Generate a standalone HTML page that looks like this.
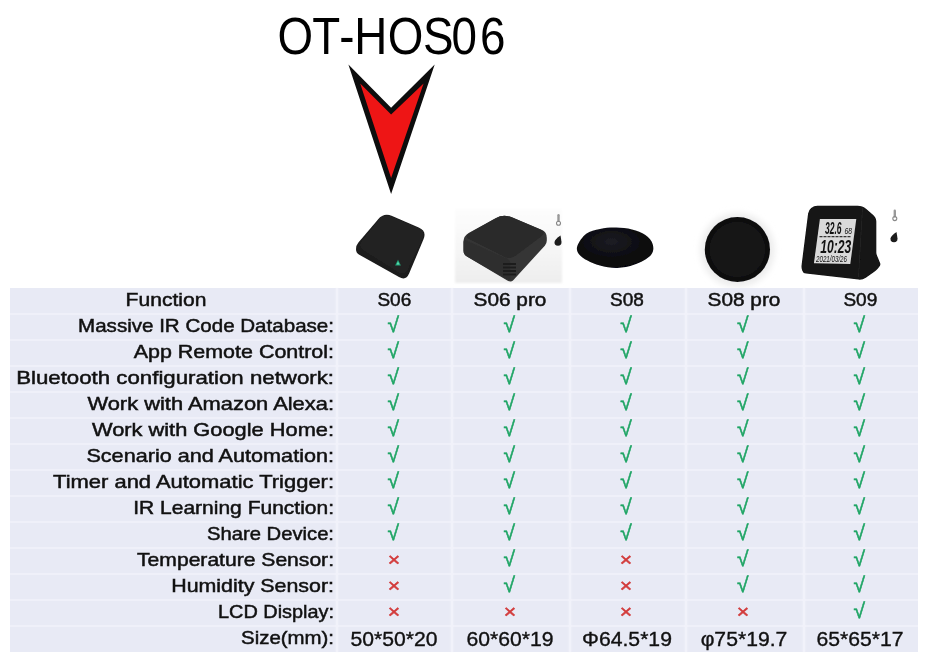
<!DOCTYPE html><html><head><meta charset="utf-8"><title>OT-HOS06</title><style>
html,body{margin:0;padding:0;background:#fff;}
body{width:936px;height:668px;position:relative;overflow:hidden;font-family:"Liberation Sans",sans-serif;color:#111;}
#tbl{position:absolute;left:10px;top:288px;width:908px;height:364px;background:#e8eaf5;}
.hl{position:absolute;left:0;width:908px;height:2px;background:#eff0f9;}
.vl{position:absolute;top:0;height:364px;width:2px;background:#f1f2fa;box-shadow:0 0 2px rgba(250,248,255,.9);}
.lab{position:absolute;transform-origin:100% 50%;left:0;width:324px;text-align:right;font-size:19px;line-height:26px;height:26px;white-space:nowrap;-webkit-text-stroke:0.5px #111;}
.lab.c{text-align:center;width:312px;}
.cell{position:absolute;width:116px;text-align:center;font-size:19px;line-height:26px;height:26px;white-space:nowrap;}
.cell.s{font-size:19.5px;-webkit-text-stroke:0.35px #111;}
.cell.h{-webkit-text-stroke:0.5px #111;}
.v{color:#1fa565;font-size:21px;-webkit-text-stroke:0.5px #1fa565;}
.x{color:#d23a3a;font-size:19px;-webkit-text-stroke:0.5px #d23a3a;}
svg{position:absolute;left:0;top:0;}
</style></head><body>
<svg width="936" height="290" viewBox="0 0 936 290">
<defs>
<filter id="b1" x="-10%" y="-10%" width="120%" height="120%"><feGaussianBlur stdDeviation="0.6"/></filter>
<filter id="b2" x="-10%" y="-10%" width="120%" height="120%"><feGaussianBlur stdDeviation="1.2"/></filter>
<filter id="b3" x="-20%" y="-20%" width="140%" height="140%"><feGaussianBlur stdDeviation="3"/></filter>
<linearGradient id="g2" x1="0" y1="0" x2="0" y2="1"><stop offset="0" stop-color="#fdfdfd"/><stop offset="0.45" stop-color="#f7f7f7"/><stop offset="1" stop-color="#eeeeee"/></linearGradient>
<radialGradient id="g3" cx="0.45" cy="0.35" r="0.7"><stop offset="0" stop-color="#1d1d24"/><stop offset="0.6" stop-color="#0b0b0f"/><stop offset="1" stop-color="#050507"/></radialGradient>
</defs>
<text x="315.2 354.7 385.4 402.6 440.6 480.7 513.2 545.4" y="53.6" transform="scale(0.88,1)" font-family="Liberation Sans, sans-serif" font-size="52" fill="#000">OT-HOS06</text>
<polygon points="348.4,64.4 391.1,107.8 434.7,64.4 391.1,193.9" fill="#0d0d0d"/>
<polygon points="360.2,83.6 391.1,114.4 423.6,83.6 391.1,178.1" fill="#ee1515"/>
<g filter="url(#b1)">
<path d="M378.0,219.4 Q383.8,212.5 392.1,216.0 L418.7,227.5 Q427.0,231.0 423.5,239.3 L409.1,273.6 Q406.0,281.0 399.0,277.1 L359.3,254.8 Q356.0,253.0 356.0,249.2 L356.0,249.2 Q356.0,245.5 358.4,242.6 Z" fill="#1b1b1b"/>
<path d="M378.8,219.8 Q383.8,213.5 391.2,216.6 L418.6,228.2 Q426.0,231.3 422.5,238.5 L408.0,268.8 Q404.5,276.0 397.7,271.7 L363.4,250.2 Q357.5,246.5 361.9,241.0 Z" fill="#242424"/>
<polygon points="398,259.8 400.9,265.4 395.1,265.4" fill="#1f9f78"/><polygon points="398,261.6 399.4,264.5 396.6,264.5" fill="#5fe0b0"/>
</g>
<rect x="455" y="208.5" width="107" height="74.5" fill="url(#g2)" filter="url(#b2)"/>
<g filter="url(#b1)">
<path d="M495.6,218.2 Q503.5,213.8 511.8,217.3 L541.5,229.8 Q546.8,232.0 546.8,237.8 L546.8,240.5 Q546.8,243.5 544.8,245.7 L513.0,280.4 Q512.0,281.5 510.5,281.5 L510.5,281.5 Q509.0,281.5 507.7,280.7 L466.9,256.5 Q463.5,254.5 463.5,250.5 L463.5,242.0 Q463.5,236.0 468.7,233.1 Z" fill="#353535"/>
<path d="M463.5,242.0 Q463.5,239.0 466.2,240.2 L507.8,258.8 Q510.5,260.0 510.5,263.0 L510.5,277.5 Q510.5,281.5 507.0,279.5 L467.0,256.5 Q463.5,254.5 463.5,250.5 Z" fill="#2f2f2f"/>
<path d="M495.7,218.2 Q503.5,213.8 511.8,217.3 L540.4,229.5 Q546.8,232.3 541.2,236.5 L516.1,255.6 Q510.5,259.8 504.2,256.7 L469.8,239.6 Q463.5,236.5 469.6,233.0 Z" fill="#2a2a2a"/>
<line x1="503" y1="264" x2="516" y2="264" stroke="#1a1a1a" stroke-width="1.6"/>
<line x1="503" y1="267.5" x2="516" y2="267.5" stroke="#1a1a1a" stroke-width="1.6"/>
<line x1="503" y1="271" x2="516" y2="271" stroke="#1a1a1a" stroke-width="1.6"/>
<line x1="503" y1="274.5" x2="516" y2="274.5" stroke="#1a1a1a" stroke-width="1.6"/>
</g>
<g filter="url(#b1)"><rect x="557.3" y="214" width="2.4" height="8" rx="1.2" fill="#999"/><circle cx="558.5" cy="223.2" r="2" fill="none" stroke="#888" stroke-width="1.1"/><path d="M560.5,235.5 L561.5,242 Q561.5,245.8 558,245.8 Q554.3,245.8 554.5,242 Q555,239 560.5,235.5 Z" fill="#1a1a1a"/></g>
<g filter="url(#b1)"><path d="M577.4,245.8 C578.6,242.4 582.4,236.5 586.2,233.7 C590.0,230.9 595.1,230.0 600.0,229.0 C604.9,228.0 610.5,227.5 615.8,227.6 C621.1,227.7 627.1,228.3 632.0,229.5 C636.9,230.7 641.9,232.5 645.4,235.0 C648.9,237.5 651.9,241.0 652.8,244.4 C653.7,247.8 653.8,251.8 650.8,255.2 C647.8,258.6 640.2,262.5 634.6,264.6 C629.0,266.7 622.9,267.9 617.1,268.0 C611.3,268.1 604.9,266.7 600.0,265.5 C595.1,264.3 591.0,262.5 587.5,260.6 C584.0,258.7 580.5,256.4 578.8,253.9 C577.1,251.4 576.2,249.2 577.4,245.8 Z" fill="url(#g3)"/></g>
<circle cx="737.4" cy="250" r="37" fill="#ececec" filter="url(#b3)"/>
<g filter="url(#b1)"><circle cx="737.4" cy="249.5" r="32.6" fill="#0c0c0e"/><circle cx="737.4" cy="249.5" r="28" fill="#131315"/></g>
<g filter="url(#b1)">
<path d="M811.2,207.9 Q814.0,205.8 817.5,205.8 L857.5,205.8 Q862.5,205.8 866.3,209.0 L873.2,214.9 Q876.3,217.5 876.3,221.5 L876.3,252.0 Q876.3,254.0 877.1,255.8 L880.0,262.7 Q881.0,265.0 879.3,266.8 L877.7,268.7 Q876.0,270.5 874.0,271.9 L865.8,277.7 Q862.5,280.0 858.5,279.6 L806.0,273.6 Q803.0,273.3 802.2,270.4 L801.8,268.9 Q801.3,267.0 801.6,265.0 L808.1,213.4 Q808.5,210.0 811.2,207.9 Z" fill="#121212"/>
<line x1="862.5" y1="208" x2="858.5" y2="277" stroke="#2a2a2a" stroke-width="0.8"/>
<polygon points="819.9,218.9 856.3,218.9 850.3,264 813.9,263.3" fill="#dadada"/>
</g>
<g font-family="Liberation Sans, sans-serif" fill="#111" font-style="italic">
<text x="825" y="233.7" font-size="16.5" font-weight="bold" textLength="16.5" lengthAdjust="spacingAndGlyphs">32.6</text>
<text x="844.5" y="233.7" font-size="9" textLength="7.5" lengthAdjust="spacingAndGlyphs">68</text>
<text x="820.3" y="253.2" font-size="18.5" font-weight="bold" textLength="31" lengthAdjust="spacingAndGlyphs">10:23</text>
<text x="816" y="262" font-size="9.5" textLength="31" lengthAdjust="spacingAndGlyphs">2021/03/26</text>
</g>
<line x1="819.5" y1="236.6" x2="851" y2="236.6" stroke="#333" stroke-width="1.3" stroke-dasharray="3 1"/>
<g filter="url(#b1)"><rect x="893.6" y="209.5" width="2.4" height="8" rx="1.2" fill="#999"/><circle cx="894.8" cy="218.6" r="2" fill="none" stroke="#888" stroke-width="1.1"/><path d="M896.5,232 L897.5,238.5 Q897.5,242.3 894,242.3 Q890.3,242.3 890.5,238.5 Q891,235.5 896.5,232 Z" fill="#1a1a1a"/></g>
</svg>
<div id="tbl">
<div class="hl" style="top:25px"></div>
<div class="hl" style="top:51px"></div>
<div class="hl" style="top:77px"></div>
<div class="hl" style="top:103px"></div>
<div class="hl" style="top:129px"></div>
<div class="hl" style="top:155px"></div>
<div class="hl" style="top:181px"></div>
<div class="hl" style="top:207px"></div>
<div class="hl" style="top:233px"></div>
<div class="hl" style="top:259px"></div>
<div class="hl" style="top:285px"></div>
<div class="hl" style="top:311px"></div>
<div class="hl" style="top:337px"></div>
<div class="vl" style="left:325.5px"></div>
<div class="vl" style="left:441px"></div>
<div class="vl" style="left:558.5px"></div>
<div class="vl" style="left:674.5px"></div>
<div class="vl" style="left:792.5px"></div>
<div class="lab c" style="top:-1px;transform:scaleX(1.109);transform-origin:50% 50%">Function</div>
<div class="cell h" style="top:-1.5px;left:326.3px;transform:scaleX(1.0)">S06</div>
<div class="cell h" style="top:-1.5px;left:442.3px;transform:scaleX(1.094)">S06 pro</div>
<div class="cell h" style="top:-1.5px;left:559px;transform:scaleX(1.0)">S08</div>
<div class="cell h" style="top:-1.5px;left:675.8px;transform:scaleX(1.094)">S08 pro</div>
<div class="cell h" style="top:-1.5px;left:792.3px;transform:scaleX(1.0)">S09</div>
<div class="lab" style="top:25px;transform:scaleX(1.082)">Massive IR Code Database:</div>
<div class="cell v" style="top:24px;left:325.3px">√</div>
<div class="cell v" style="top:24px;left:441.3px">√</div>
<div class="cell v" style="top:24px;left:558px">√</div>
<div class="cell v" style="top:24px;left:674.8px">√</div>
<div class="cell v" style="top:24px;left:791.3px">√</div>
<div class="lab" style="top:51px;transform:scaleX(1.129)">App Remote Control:</div>
<div class="cell v" style="top:50px;left:325.3px">√</div>
<div class="cell v" style="top:50px;left:441.3px">√</div>
<div class="cell v" style="top:50px;left:558px">√</div>
<div class="cell v" style="top:50px;left:674.8px">√</div>
<div class="cell v" style="top:50px;left:791.3px">√</div>
<div class="lab" style="top:77px;transform:scaleX(1.171)">Bluetooth configuration network:</div>
<div class="cell v" style="top:76px;left:325.3px">√</div>
<div class="cell v" style="top:76px;left:441.3px">√</div>
<div class="cell v" style="top:76px;left:558px">√</div>
<div class="cell v" style="top:76px;left:674.8px">√</div>
<div class="cell v" style="top:76px;left:791.3px">√</div>
<div class="lab" style="top:103px;transform:scaleX(1.152)">Work with Amazon Alexa:</div>
<div class="cell v" style="top:102px;left:325.3px">√</div>
<div class="cell v" style="top:102px;left:441.3px">√</div>
<div class="cell v" style="top:102px;left:558px">√</div>
<div class="cell v" style="top:102px;left:674.8px">√</div>
<div class="cell v" style="top:102px;left:791.3px">√</div>
<div class="lab" style="top:129px;transform:scaleX(1.148)">Work with Google Home:</div>
<div class="cell v" style="top:128px;left:325.3px">√</div>
<div class="cell v" style="top:128px;left:441.3px">√</div>
<div class="cell v" style="top:128px;left:558px">√</div>
<div class="cell v" style="top:128px;left:674.8px">√</div>
<div class="cell v" style="top:128px;left:791.3px">√</div>
<div class="lab" style="top:155px;transform:scaleX(1.138)">Scenario and Automation:</div>
<div class="cell v" style="top:154px;left:325.3px">√</div>
<div class="cell v" style="top:154px;left:441.3px">√</div>
<div class="cell v" style="top:154px;left:558px">√</div>
<div class="cell v" style="top:154px;left:674.8px">√</div>
<div class="cell v" style="top:154px;left:791.3px">√</div>
<div class="lab" style="top:181px;transform:scaleX(1.155)">Timer and Automatic Trigger:</div>
<div class="cell v" style="top:180px;left:325.3px">√</div>
<div class="cell v" style="top:180px;left:441.3px">√</div>
<div class="cell v" style="top:180px;left:558px">√</div>
<div class="cell v" style="top:180px;left:674.8px">√</div>
<div class="cell v" style="top:180px;left:791.3px">√</div>
<div class="lab" style="top:207px;transform:scaleX(1.105)">IR Learning Function:</div>
<div class="cell v" style="top:206px;left:325.3px">√</div>
<div class="cell v" style="top:206px;left:441.3px">√</div>
<div class="cell v" style="top:206px;left:558px">√</div>
<div class="cell v" style="top:206px;left:674.8px">√</div>
<div class="cell v" style="top:206px;left:791.3px">√</div>
<div class="lab" style="top:233px;transform:scaleX(1.064)">Share Device:</div>
<div class="cell v" style="top:232px;left:325.3px">√</div>
<div class="cell v" style="top:232px;left:441.3px">√</div>
<div class="cell v" style="top:232px;left:558px">√</div>
<div class="cell v" style="top:232px;left:674.8px">√</div>
<div class="cell v" style="top:232px;left:791.3px">√</div>
<div class="lab" style="top:259px;transform:scaleX(1.11)">Temperature Sensor:</div>
<div class="cell x" style="top:258.7px;left:325.6px;transform:scaleX(1.12)">×</div>
<div class="cell v" style="top:258px;left:441.3px">√</div>
<div class="cell x" style="top:258.7px;left:558.3px;transform:scaleX(1.12)">×</div>
<div class="cell v" style="top:258px;left:674.8px">√</div>
<div class="cell v" style="top:258px;left:791.3px">√</div>
<div class="lab" style="top:285px;transform:scaleX(1.125)">Humidity Sensor:</div>
<div class="cell x" style="top:284.7px;left:325.6px;transform:scaleX(1.12)">×</div>
<div class="cell v" style="top:284px;left:441.3px">√</div>
<div class="cell x" style="top:284.7px;left:558.3px;transform:scaleX(1.12)">×</div>
<div class="cell v" style="top:284px;left:674.8px">√</div>
<div class="cell v" style="top:284px;left:791.3px">√</div>
<div class="lab" style="top:311px;transform:scaleX(1.046)">LCD Display:</div>
<div class="cell x" style="top:310.7px;left:325.6px;transform:scaleX(1.12)">×</div>
<div class="cell x" style="top:310.7px;left:441.6px;transform:scaleX(1.12)">×</div>
<div class="cell x" style="top:310.7px;left:558.3px;transform:scaleX(1.12)">×</div>
<div class="cell x" style="top:310.7px;left:675.1px;transform:scaleX(1.12)">×</div>
<div class="cell v" style="top:310px;left:791.3px">√</div>
<div class="lab" style="top:337px;transform:scaleX(1.074)">Size(mm):</div>
<div class="cell s" style="top:338px;left:326.3px;transform:scaleX(1.085)">50*50*20</div>
<div class="cell s" style="top:338px;left:442.3px;transform:scaleX(1.085)">60*60*19</div>
<div class="cell s" style="top:338px;left:559px;transform:scaleX(1.085)">Φ64.5*19</div>
<div class="cell s" style="top:338px;left:675.8px;transform:scaleX(1.085)">φ75*19.7</div>
<div class="cell s" style="top:338px;left:792.3px;transform:scaleX(1.085)">65*65*17</div>
</div></body></html>
